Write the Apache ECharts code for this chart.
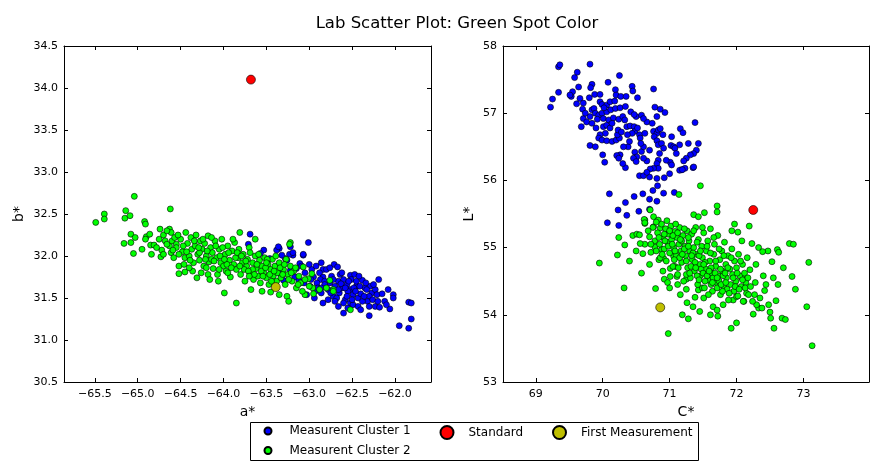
<!DOCTYPE html>
<html>
<head>
<meta charset="utf-8">
<script src="https://cdn.jsdelivr.net/npm/echarts@6/dist/echarts.min.js"></script>
<style>
  html, body { margin: 0; padding: 0; background: #fff; }
  #main { width: 873px; height: 462px; }
</style>
</head>
<body>
<div id="main"></div>
<script>
// tick labels
const abTicksX = [-65.5, -65.0, -64.5, -64.0, -63.5, -63.0, -62.5, -62.0];
const chTicksX = [69, 70, 71, 72, 73];

// a*/b* panel, cluster 1 (blue)
const abCluster1 = [
  [-63.69, 32.26], [-63.35, 32.09], [-63.01, 32.16], [-63.07, 32.01], [-63.19, 32.01], [-63.23, 32.02],
  [-63.28, 31.97], [-62.71, 31.90], [-62.67, 31.87], [-62.84, 31.84], [-62.80, 31.84], [-62.97, 31.84],
  [-62.64, 31.78], [-62.52, 31.77], [-62.47, 31.78], [-62.38, 31.71], [-62.19, 31.72], [-62.84, 31.75],
  [-62.87, 31.72], [-62.91, 31.68], [-62.76, 31.68], [-62.70, 31.64], [-62.66, 31.70], [-62.60, 31.72],
  [-62.99, 31.64], [-62.93, 31.58], [-62.86, 31.56], [-63.03, 31.54], [-62.56, 31.66], [-62.52, 31.60],
  [-62.49, 31.54], [-62.43, 31.50], [-62.45, 31.64], [-62.51, 31.72], [-62.35, 31.62], [-62.29, 31.64],
  [-62.27, 31.56], [-62.23, 31.60], [-62.21, 31.54], [-62.12, 31.46], [-62.02, 31.54], [-62.02, 31.50],
  [-62.30, 31.52], [-62.32, 31.46], [-62.23, 31.40], [-62.18, 31.39], [-62.58, 31.48], [-62.52, 31.44],
  [-62.49, 31.42], [-62.43, 31.40], [-62.84, 31.44], [-62.78, 31.48], [-62.72, 31.52], [-62.60, 31.32],
  [-62.30, 31.29], [-62.06, 31.37], [-61.84, 31.45], [-61.81, 31.44], [-61.81, 31.25], [-61.95, 31.17],
  [-61.84, 31.14], [-63.53, 32.07], [-63.57, 32.03], [-63.46, 31.97], [-63.38, 32.07], [-63.26, 31.95],
  [-63.32, 32.01], [-63.15, 31.85], [-63.11, 31.91], [-63.22, 31.83], [-63.17, 31.75], [-63.12, 31.71],
  [-63.06, 31.68], [-63.30, 31.71], [-63.34, 31.79], [-62.62, 31.62], [-62.55, 31.58], [-62.48, 31.62],
  [-62.40, 31.55], [-62.65, 31.56], [-62.78, 31.60], [-62.90, 31.62], [-62.95, 31.75], [-63.05, 31.80],
  [-62.74, 31.76], [-62.68, 31.50], [-62.60, 31.44], [-62.38, 31.46], [-62.45, 31.70], [-62.82, 31.70],
  [-62.92, 31.88], [-63.00, 31.90], [-62.56, 31.52], [-62.34, 31.68], [-62.26, 31.48], [-63.22, 32.11],
  [-63.36, 32.11], [-63.19, 32.04], [-63.07, 32.02], [-63.09, 31.88], [-63.71, 32.14],
  [-62.88, 31.80], [-62.82, 31.66], [-62.75, 31.56], [-62.70, 31.46], [-62.63, 31.67], [-62.58, 31.62],
  [-62.54, 31.70], [-62.50, 31.48], [-62.46, 31.58], [-62.41, 31.64], [-62.36, 31.52], [-62.33, 31.60],
  [-62.25, 31.66], [-62.20, 31.46], [-62.15, 31.55], [-62.10, 31.42], [-62.66, 31.40], [-62.55, 31.38],
  [-62.40, 31.36], [-62.94, 31.50], [-62.98, 31.72], [-62.86, 31.92], [-62.76, 31.86], [-62.62, 31.80],
  [-62.42, 31.76], [-62.30, 31.40], [-62.08, 31.60], [-62.72, 31.72], [-62.86, 31.62], [-62.66, 31.60]
];

// a*/b* panel, cluster 2 (green)
const abCluster2 = [
  [-65.49, 32.40], [-65.39, 32.50], [-65.39, 32.44], [-65.04, 32.71], [-65.14, 32.54], [-65.15, 32.45],
  [-65.09, 32.48], [-65.16, 32.15], [-65.08, 32.26], [-65.08, 32.16], [-65.03, 32.22], [-65.05, 32.03],
  [-64.95, 32.08], [-64.92, 32.41], [-64.91, 32.38], [-64.90, 32.23], [-64.91, 32.20], [-64.86, 32.26],
  [-64.85, 32.13], [-64.84, 32.02], [-64.81, 32.13], [-64.73, 31.99], [-64.72, 32.07], [-64.75, 32.20],
  [-64.74, 32.32], [-64.62, 32.56], [-64.63, 32.32], [-64.61, 32.28], [-64.61, 32.04], [-64.63, 32.12],
  [-64.52, 31.88], [-64.52, 31.79], [-64.45, 31.81], [-64.31, 31.74], [-64.18, 31.78], [-63.99, 31.56],
  [-63.85, 31.44], [-63.68, 31.60], [-63.55, 31.58], [-63.45, 31.57], [-63.35, 31.54], [-63.26, 31.52],
  [-63.24, 31.46], [-63.22, 32.16], [-63.63, 32.20], [-63.81, 32.28], [-62.52, 31.36], [-63.05, 31.54],
  [-63.23, 32.14], [-62.76, 31.71], [-62.72, 31.60], [-62.96, 31.62], [-63.01, 31.73], [-62.97, 31.79],
  [-63.07, 31.87], [-64.70, 32.25], [-64.66, 32.30], [-64.60, 32.18], [-64.57, 32.22], [-64.68, 32.18],
  [-64.55, 32.14],
  [-64.55, 32.10], [-64.50, 32.20], [-64.48, 32.05], [-64.45, 31.98], [-64.44, 32.28], [-64.42, 32.15],
  [-64.40, 32.00], [-64.38, 32.22], [-64.37, 32.08], [-64.35, 31.92], [-64.33, 32.12], [-64.32, 32.25],
  [-64.30, 32.02], [-64.28, 31.95], [-64.27, 32.18], [-64.25, 32.08], [-64.23, 31.88], [-64.22, 32.15],
  [-64.20, 32.00], [-64.18, 32.24], [-64.17, 31.93], [-64.15, 32.10], [-64.13, 32.04], [-64.12, 31.85],
  [-64.10, 32.18], [-64.08, 31.98], [-64.07, 31.78], [-64.05, 32.08], [-64.03, 31.92], [-64.02, 32.20],
  [-64.00, 31.88], [-63.98, 32.02], [-63.97, 31.82], [-63.95, 32.12], [-63.93, 31.95], [-63.92, 31.75],
  [-63.90, 32.06], [-63.88, 31.90], [-63.87, 32.16], [-63.85, 31.84], [-63.83, 31.98], [-63.82, 32.08],
  [-63.80, 31.78], [-63.78, 31.92], [-63.77, 32.02], [-63.75, 31.70], [-63.73, 31.88], [-63.72, 31.96],
  [-63.70, 32.10], [-63.68, 31.80], [-63.66, 31.92], [-63.65, 31.72], [-63.63, 32.00], [-63.62, 31.85],
  [-63.60, 31.76], [-63.58, 31.95], [-63.57, 31.68], [-63.55, 31.88], [-63.53, 31.80], [-63.52, 31.98],
  [-63.50, 31.74], [-63.48, 31.90], [-63.47, 31.66], [-63.45, 31.84], [-63.43, 31.96], [-63.42, 31.76],
  [-63.40, 31.88], [-63.38, 31.70], [-63.37, 31.80], [-63.35, 31.92], [-63.33, 31.74], [-63.30, 31.84],
  [-63.28, 31.66], [-63.27, 31.96], [-63.25, 31.78], [-63.22, 31.88], [-63.20, 31.70], [-63.18, 31.82],
  [-63.15, 31.62], [-63.12, 31.76], [-63.10, 31.68], [-63.08, 31.58], [-63.05, 31.72], [-63.00, 31.64],
  [-62.95, 31.55], [-62.88, 31.60], [-62.80, 31.62], [-62.72, 31.58],
  [-64.58, 31.98], [-64.52, 32.02], [-64.46, 31.90], [-64.36, 31.82], [-64.26, 31.80], [-64.16, 31.72],
  [-64.06, 31.70], [-64.28, 32.04], [-64.14, 31.96], [-63.96, 31.90], [-63.86, 31.98], [-63.76, 31.84],
  [-63.66, 31.84], [-63.56, 31.82], [-63.46, 31.78],
  [-64.78, 32.10], [-64.70, 32.02], [-64.66, 32.14], [-64.59, 32.07], [-64.53, 32.25], [-64.47, 32.12],
  [-64.43, 32.05], [-64.39, 31.95], [-64.34, 32.18], [-64.29, 32.10], [-64.24, 32.20], [-64.21, 31.96],
  [-64.19, 32.06], [-64.14, 32.22], [-64.11, 31.94], [-64.09, 32.12], [-64.04, 32.00], [-64.01, 32.10],
  [-63.99, 31.96], [-63.94, 32.04], [-63.91, 31.86], [-63.89, 32.20], [-63.84, 32.04], [-63.81, 31.88],
  [-63.79, 32.00], [-63.74, 31.94], [-63.71, 31.82], [-63.69, 32.04], [-63.64, 31.78], [-63.61, 31.90],
  [-63.59, 32.02], [-63.54, 31.76], [-63.51, 31.86], [-63.49, 31.96], [-63.44, 31.70], [-63.41, 31.82],
  [-63.39, 32.00], [-63.34, 31.86], [-63.31, 31.78], [-63.29, 31.90], [-63.24, 31.72], [-63.21, 31.80],
  [-63.16, 31.86], [-63.13, 31.66], [-64.05, 31.84], [-63.95, 31.80], [-64.20, 31.86], [-64.40, 31.86],
  [-63.70, 31.76], [-63.50, 31.92]
];

// C*/L* panel, cluster 1 (blue)
const chCluster1 = [
  [69.34, 57.69], [69.36, 57.72], [69.81, 57.73], [70.25, 57.56], [69.58, 57.53], [69.62, 57.61],
  [69.34, 57.31], [69.25, 57.21], [69.22, 57.09], [69.53, 57.25], [69.55, 57.32], [69.51, 57.27],
  [69.64, 57.39], [69.84, 57.43], [69.82, 57.38], [69.66, 57.22], [69.80, 57.23], [69.88, 57.28],
  [69.96, 57.28], [70.08, 57.46], [70.19, 57.35], [70.20, 57.27], [70.27, 57.25], [70.35, 57.25],
  [70.44, 57.40], [70.45, 57.33], [70.52, 57.23], [70.76, 57.36], [69.61, 57.14], [69.71, 57.15],
  [69.70, 57.06], [69.84, 57.05], [69.87, 57.07], [69.96, 57.17], [69.99, 57.13], [70.06, 57.12],
  [70.11, 57.17], [69.89, 57.00], [69.94, 56.97], [69.99, 57.00], [70.06, 57.02], [70.12, 57.05],
  [70.19, 57.07], [70.26, 57.08], [70.34, 57.10], [70.42, 57.02], [70.50, 56.95], [70.47, 56.98],
  [69.71, 56.92], [69.76, 56.87], [69.84, 56.85], [69.81, 56.95], [69.92, 56.91], [70.01, 56.92],
  [70.09, 56.90], [70.16, 56.93], [70.24, 56.91], [70.30, 56.95], [70.36, 56.80], [70.41, 56.81],
  [70.47, 56.80], [70.48, 56.73], [70.44, 56.70], [70.37, 56.68], [70.01, 56.80], [70.06, 56.82],
  [70.11, 56.78], [70.04, 56.70], [69.96, 56.68], [69.94, 56.63], [69.99, 56.60], [70.06, 56.59],
  [70.14, 56.58], [70.20, 56.60], [70.25, 56.63], [70.22, 56.68], [70.23, 56.75], [70.55, 56.68],
  [70.56, 56.63], [70.66, 56.87], [70.58, 56.97], [70.61, 56.92], [70.78, 57.09], [70.86, 57.06],
  [70.93, 57.01], [70.81, 56.95], [70.76, 56.73], [70.81, 56.70], [70.77, 56.65], [70.83, 56.75],
  [70.86, 56.77], [70.81, 56.59], [70.83, 56.53], [70.88, 56.55], [70.91, 56.48], [70.85, 56.40],
  [71.03, 56.65], [71.16, 56.77], [71.20, 56.71], [71.02, 56.52], [71.06, 56.50], [71.08, 56.48],
  [71.15, 56.53], [71.38, 56.86], [71.43, 56.55], [71.40, 56.45], [71.36, 56.40], [71.31, 56.38],
  [71.25, 56.33], [71.21, 56.29], [71.18, 56.16], [71.23, 56.18], [71.35, 56.19], [71.01, 56.27],
  [71.03, 56.23], [70.83, 56.30], [70.81, 56.25], [70.83, 56.18], [70.76, 56.18], [70.71, 56.17],
  [70.66, 56.29], [70.61, 56.33], [70.58, 56.43], [70.61, 56.50], [70.57, 56.55], [70.48, 56.42],
  [70.51, 56.35], [70.46, 56.33], [70.50, 56.28], [70.38, 56.50], [70.31, 56.50], [70.26, 56.38],
  [70.21, 56.37], [70.24, 56.33], [70.00, 56.38], [70.03, 56.27], [69.81, 56.52], [69.89, 56.50],
  [70.34, 56.19], [70.55, 56.07], [70.61, 56.07], [70.70, 56.05], [70.81, 56.03], [70.92, 56.04],
  [71.36, 56.20], [71.15, 56.15], [71.19, 56.16],
  [70.10, 55.80], [70.47, 55.76], [70.60, 55.80], [70.75, 55.85], [70.82, 55.92], [70.91, 55.81],
  [71.07, 55.82], [70.70, 55.72], [70.81, 55.69], [70.34, 55.67], [70.23, 55.56], [70.36, 55.48],
  [70.54, 55.54], [70.07, 55.37], [70.24, 55.33], [70.70, 55.57],
  [69.74, 57.00], [69.90, 56.78], [70.02, 57.08], [70.14, 56.85], [70.28, 56.72], [70.33, 56.90],
  [70.40, 56.58], [70.52, 56.78], [70.63, 56.70], [70.70, 56.45], [70.74, 56.85], [70.90, 56.68],
  [70.95, 56.30], [71.10, 56.40], [71.28, 56.55], [70.18, 57.18], [69.68, 56.80], [70.30, 56.25],
  [70.66, 56.12], [71.00, 56.10]
];

// C*/L* panel, cluster 2 (green)
const chCluster2 = [
  [69.95, 54.77], [70.22, 54.89], [70.24, 55.15], [70.33, 55.04], [70.45, 55.18], [70.51, 55.20],
  [70.55, 55.19], [70.32, 54.40], [70.63, 55.36], [70.63, 55.41], [70.60, 54.91], [70.63, 55.05],
  [70.79, 54.39], [70.92, 54.53], [70.97, 54.48], [70.98, 53.72], [71.19, 54.00], [71.28, 53.94],
  [71.26, 54.18], [71.38, 54.26], [71.51, 54.25], [71.61, 54.00], [71.72, 53.98], [71.92, 53.80],
  [72.00, 53.88], [72.08, 54.55], [72.25, 54.01], [72.27, 54.30], [72.40, 54.58], [72.42, 54.36],
  [72.47, 54.95], [72.53, 54.79], [72.48, 54.15], [72.50, 54.04], [72.51, 53.95], [72.56, 53.80],
  [72.59, 54.21], [72.61, 54.97], [72.63, 54.93], [72.68, 53.95], [72.73, 53.93], [72.79, 55.06],
  [72.85, 55.05], [72.83, 54.57], [72.88, 54.38], [73.05, 54.12], [73.08, 54.78], [73.13, 53.54],
  [71.93, 55.25], [72.02, 55.23], [72.08, 55.10], [72.19, 55.32], [72.23, 55.06], [72.33, 55.00],
  [72.39, 54.94], [72.29, 54.75], [72.20, 54.67], [71.97, 55.35], [71.71, 55.62], [71.71, 55.53],
  [71.52, 55.52], [71.46, 55.92], [71.14, 55.79], [70.71, 55.56], [70.76, 55.46], [71.36, 55.49],
  [70.62, 55.42], [70.63, 55.37], [72.33, 54.10], [72.38, 54.10], [72.30, 54.15], [71.95, 54.22],
  [72.00, 54.27], [72.11, 54.20], [72.15, 54.32], [71.65, 54.12], [71.71, 54.07], [71.43, 54.37],
  [71.49, 54.40], [71.25, 54.53], [71.25, 54.38], [71.12, 54.45], [71.11, 54.57], [71.01, 54.69],
  [71.01, 54.57], [71.06, 54.87], [71.08, 54.72], [70.84, 54.82], [70.91, 54.84], [70.70, 55.16],
  [70.72, 54.93], [70.76, 55.31], [71.43, 55.46], [70.83, 55.41], [70.86, 55.29], [70.56, 55.06],
  [70.78, 55.01], [70.88, 54.97],
  [70.75, 55.30], [70.78, 55.10], [70.80, 54.95], [70.82, 55.22], [70.85, 55.05], [70.86, 54.85],
  [70.88, 55.35], [70.90, 55.15], [70.92, 54.98], [70.94, 55.28], [70.95, 54.80], [70.97, 55.08],
  [70.98, 55.20], [71.00, 54.92], [71.02, 55.32], [71.03, 55.12], [71.05, 54.72], [71.06, 55.00],
  [71.08, 55.24], [71.10, 54.88], [71.11, 55.15], [71.12, 54.60], [71.14, 55.05], [71.15, 55.30],
  [71.17, 54.95], [71.18, 54.78], [71.20, 55.18], [71.21, 54.50], [71.23, 55.02], [71.24, 54.88],
  [71.26, 55.25], [71.27, 54.70], [71.29, 55.10], [71.30, 54.95], [71.31, 54.55], [71.33, 55.20],
  [71.34, 54.82], [71.36, 55.00], [71.37, 54.65], [71.39, 55.30], [71.40, 54.90], [71.42, 54.45],
  [71.43, 55.12], [71.45, 54.75], [71.46, 54.58], [71.48, 55.02], [71.49, 54.85], [71.51, 55.22],
  [71.52, 54.40], [71.54, 54.68], [71.55, 54.95], [71.57, 55.10], [71.58, 54.52], [71.60, 54.80],
  [71.61, 55.28], [71.63, 54.62], [71.64, 54.35], [71.66, 54.90], [71.67, 55.05], [71.69, 54.72],
  [71.70, 54.48], [71.72, 55.18], [71.73, 54.58], [71.75, 54.82], [71.76, 54.30], [71.78, 54.95],
  [71.79, 54.65], [71.81, 54.42], [71.82, 55.08], [71.84, 54.75], [71.85, 54.55], [71.87, 54.88],
  [71.88, 54.22], [71.90, 54.68], [71.91, 54.45], [71.93, 54.98], [71.94, 54.60], [71.96, 54.35],
  [71.97, 54.80], [71.99, 54.50], [72.00, 54.70], [72.02, 54.28], [72.03, 54.90], [72.05, 54.58],
  [72.07, 54.42], [72.09, 54.75], [72.10, 54.20], [72.12, 54.62], [72.14, 54.48], [72.16, 54.85],
  [72.18, 54.30],
  [71.05, 55.18], [71.12, 55.22], [71.18, 55.10], [71.22, 54.98], [71.28, 55.02], [71.35, 54.92],
  [71.38, 54.78], [71.44, 54.88], [71.47, 54.68], [71.50, 54.62], [71.53, 54.78], [71.56, 54.58],
  [71.62, 54.70], [71.65, 54.55], [71.68, 54.62], [71.71, 54.40], [71.74, 54.50], [71.77, 54.45],
  [71.80, 54.58], [71.83, 54.62], [71.86, 54.38], [70.92, 55.20], [70.98, 55.02], [71.08, 54.95],
  [71.15, 54.85], [71.25, 54.60], [71.32, 54.72], [71.41, 54.58], [71.58, 54.30], [71.62, 54.45],
  [70.68, 55.25], [70.72, 55.05], [70.80, 55.38], [70.84, 55.15], [70.89, 54.90], [70.93, 55.10],
  [70.96, 55.40], [71.00, 55.25], [71.04, 55.05], [71.07, 54.82], [71.09, 55.35], [71.13, 54.70],
  [71.16, 55.12], [71.19, 54.90], [71.22, 55.28], [71.25, 54.80], [71.28, 55.15], [71.30, 54.62],
  [71.33, 54.88], [71.36, 55.25], [71.39, 54.70], [71.41, 55.08], [71.44, 54.52], [71.46, 54.95],
  [71.49, 55.30], [71.51, 54.75], [71.53, 54.50], [71.56, 55.02], [71.59, 54.65], [71.61, 54.92],
  [71.64, 54.48], [71.66, 55.15], [71.69, 54.80], [71.71, 54.55], [71.74, 54.98], [71.76, 54.68],
  [71.79, 54.35], [71.81, 54.88], [71.84, 54.48], [71.87, 54.70], [71.89, 54.32], [71.92, 54.85],
  [71.95, 54.55], [71.98, 54.42], [72.01, 54.62], [72.04, 54.38], [72.06, 54.80], [72.09, 54.52],
  [72.13, 54.40], [72.17, 54.55], [72.21, 54.42], [72.24, 54.20], [72.28, 54.48], [72.35, 54.25],
  [72.44, 54.45], [72.55, 54.55], [72.62, 54.45], [72.70, 54.70], [70.90, 54.65], [71.00, 54.40],
  [71.16, 54.30], [71.35, 54.12], [71.45, 54.05], [71.80, 54.15], [70.70, 54.75], [70.58, 54.62],
  [70.50, 54.95], [70.40, 54.80]
];

// reference points
const abStandard = [[-63.68, 34.10]];
const abFirst = [[-63.39, 31.63]];
const chStandard = [[72.25, 55.56]];
const chFirst = [[70.86, 54.11]];

const fmtMinus = v => String(v).replace('-', '\u2212');
const fmt1 = v => fmtMinus(Number(v).toFixed(1));

const font = 'DejaVu Sans';

function xAx(gridIndex, min, max, ticks, pos, name, labelFmt) {
  const show = pos === 'bottom';
  return {
    type: 'value', gridIndex, position: pos, min, max,
    name: show ? name : '', nameLocation: 'middle', nameGap: 22,
    nameTextStyle: { fontSize: 14, color: '#000', fontFamily: font },
    axisLine: { show: true, onZero: false, lineStyle: { color: '#000', width: 1 } },
    axisTick: { show: true, inside: true, length: 4, customValues: ticks, lineStyle: { color: '#000' } },
    axisLabel: { show: show, customValues: ticks, margin: 7, fontSize: 11, color: '#000', fontFamily: font, formatter: labelFmt },
    splitLine: { show: false }
  };
}
function yAx(gridIndex, min, max, interval, pos, name, nameGap, labelFmt) {
  const show = pos === 'left';
  return {
    type: 'value', gridIndex, position: pos, min, max, interval,
    name: show ? name : '', nameLocation: 'middle', nameGap, nameRotate: 90,
    nameTextStyle: { fontSize: 14, color: '#000', fontFamily: font },
    axisLine: { show: true, onZero: false, lineStyle: { color: '#000', width: 1 } },
    axisTick: { show: true, inside: true, length: 4, lineStyle: { color: '#000' } },
    axisLabel: { show: show, margin: 6, fontSize: 11, color: '#000', fontFamily: font, formatter: labelFmt },
    splitLine: { show: false }
  };
}

const dotStyle = c => ({ color: c, opacity: 1, borderColor: '#000', borderWidth: 0.6 });

function scat(name, data, xi, yi, color, size, z) {
  return {
    name, type: 'scatter', data, xAxisIndex: xi, yAxisIndex: yi,
    symbol: 'circle', symbolSize: size, itemStyle: dotStyle(color), z,
    emphasis: { disabled: true }, animation: false
  };
}

function oneLegend(name, left, top, h) {
  return {
    data: [name], left, top, orient: 'horizontal', padding: 0,
    itemWidth: 33, itemHeight: h, icon: 'circle', selectedMode: false,
    textStyle: { fontSize: 12, color: '#000', fontFamily: font }
  };
}

const option = {
  animation: false,
  backgroundColor: '#fff',
  textStyle: { fontFamily: font },
  title: {
    text: 'Lab Scatter Plot: Green Spot Color',
    left: 452, top: 10, textAlign: 'center',
    textStyle: { fontSize: 16.5, fontWeight: 'normal', color: '#000', fontFamily: font }
  },
  grid: [
    { left: 64, top: 46, width: 367, height: 336 },
    { left: 503, top: 46, width: 366, height: 336 }
  ],
  xAxis: [
    xAx(0, -65.86, -61.58, abTicksX, 'bottom', 'a*', fmt1),
    xAx(0, -65.86, -61.58, abTicksX, 'top', '', fmt1),
    xAx(1, 68.51, 73.98, chTicksX, 'bottom', 'C*', v => String(v)),
    xAx(1, 68.51, 73.98, chTicksX, 'top', '', v => String(v))
  ],
  yAxis: [
    yAx(0, 30.5, 34.5, 0.5, 'left', 'b*', 38, fmt1),
    yAx(0, 30.5, 34.5, 0.5, 'right', '', 0, fmt1),
    yAx(1, 53, 58, 1, 'left', 'L*', 27, v => String(v)),
    yAx(1, 53, 58, 1, 'right', '', 0, v => String(v))
  ],
  legend: [
    oneLegend('Measurent Cluster 1', 263.5, 425, 7),
    oneLegend('Measurent Cluster 2', 263.5, 444.5, 7),
    oneLegend('Standard', 439.5, 425, 13),
    oneLegend('First Measurement', 552, 425, 13)
  ],
  graphic: [{
    type: 'rect', left: 250, top: 422, z: -1,
    shape: { width: 448, height: 38 },
    style: { fill: '#fff', stroke: '#000', lineWidth: 1 }
  }],
  series: [
    scat('Measurent Cluster 1', abCluster1, 0, 0, '#0000ff', 6, 2),
    scat('Measurent Cluster 2', abCluster2, 0, 0, '#00ff00', 6, 3),
    scat('Standard', abStandard, 0, 0, '#ff0000', 9, 4),
    scat('First Measurement', abFirst, 0, 0, '#bfbf00', 9, 4),
    scat('Measurent Cluster 1', chCluster1, 2, 2, '#0000ff', 6, 2),
    scat('Measurent Cluster 2', chCluster2, 2, 2, '#00ff00', 6, 3),
    scat('Standard', chStandard, 2, 2, '#ff0000', 9, 4),
    scat('First Measurement', chFirst, 2, 2, '#bfbf00', 9, 4)
  ]
};

const chart = echarts.init(document.getElementById('main'));
chart.setOption(option);
</script>
</body>
</html>
